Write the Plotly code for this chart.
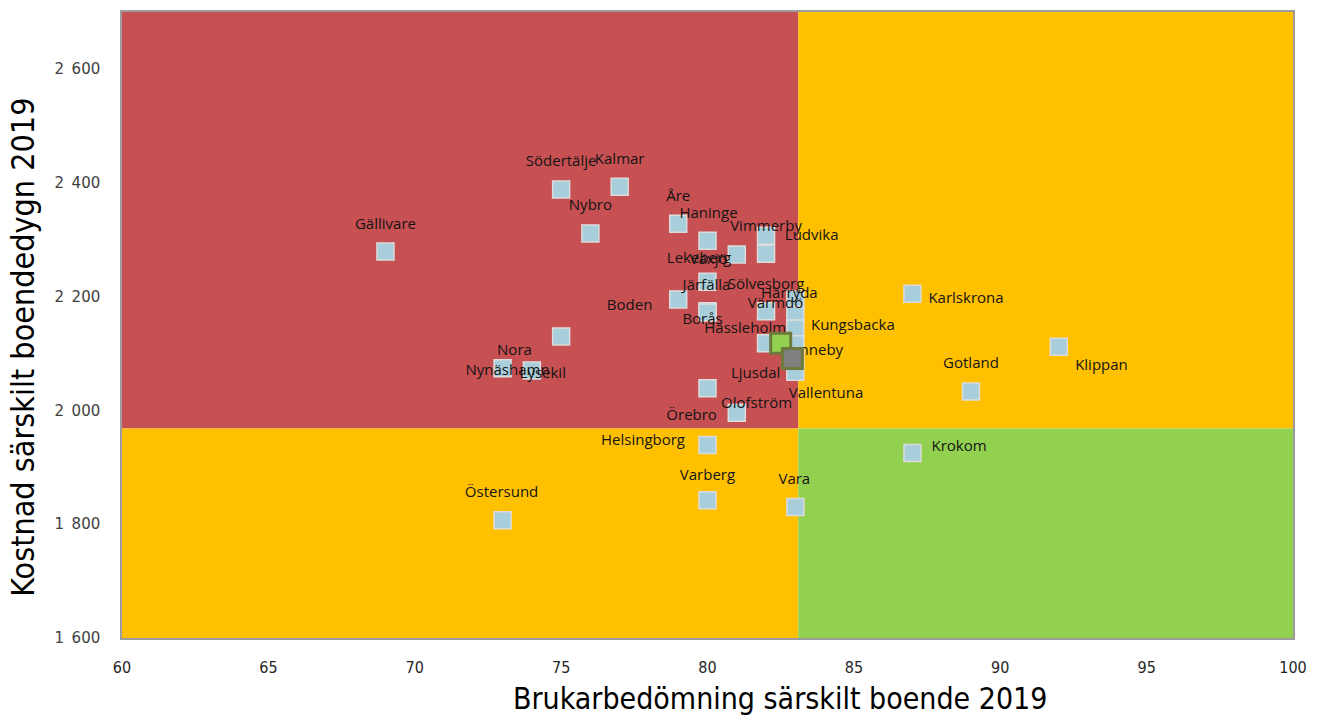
import plotly.graph_objects as go

# ---------------- data ----------------
municipalities = ["Gällivare", "Södertälje", "Kalmar", "Nybro", "Åre", "Haninge", "Ludvika",
                  "Vimmerby", "Lekeberg", "Växjö", "Boden", "Järfälla", "Borås", "Sölvesborg",
                  "Härryda", "Värmdö", "Kungsbacka", "Hässleholm", "Ronneby", "Vallentuna",
                  "Ljusdal", "Örebro", "Olofström", "Helsingborg", "Varberg", "Vara",
                  "Östersund", "Nora", "Nynäshamn", "Lysekil", "Karlskrona", "Klippan",
                  "Gotland", "Krokom"]
user_rating = [69, 75, 77, 76, 79, 80, 82,
               82, 81, 80, 79, 80, 80, 82,
               83, 83, 83, 82, 83, 83,
               83, 80, 81, 80, 80, 83,
               73, 75, 73, 74, 87, 92,
               89, 87]
cost_per_day = [2279, 2388, 2393, 2311, 2328, 2298, 2307,
                2275, 2274, 2226, 2195, 2174, 2172, 2174,
                2195, 2168, 2144, 2118, 2116, 2091,
                2068, 2039, 1996, 1939, 1842, 1830,
                1807, 2130, 2074, 2070, 2205, 2112,
                2033, 1925]

highlight_names = ["Kommunen", "Riket"]
highlight_rating = [82.5, 82.9]
highlight_cost = [2118, 2091]

avg_rating = 83.1
avg_cost = 1968

x_ticks = [60, 65, 70, 75, 80, 85, 90, 95, 100]
y_ticks = [1600, 1800, 2000, 2200, 2400, 2600]
y_tick_text = ["1\u2002600", "1\u2002800", "2\u2002000", "2\u2002200", "2\u2002400", "2\u2002600"]

# label offsets in screen pixels (dx right, dy down) - styling only
label_offsets = [(0, -26), (0, -27), (0, -27), (0, -27), (0, -27), (1, -27), (46, 1),
                 (0, -27), (-38, 5), (1, -22), (-49, 7), (-1, -25), (-5, 8), (0, -26),
                 (-6, -5), (-20, -11), (58, -2), (-21, -14), (17, 7), (31, 36),
                 (-40, 3), (-16, 28), (20, -8), (-65, -4), (0, -24), (-1, -27),
                 (-1, -27), (-47, 15), (5, 3), (11, 4), (54, 6), (43, 20),
                 (0, -27), (47, -6)]

# ---------------- layout geometry ----------------
W, H = 1317, 717
ML, MR, MT, MB = 122, 15, 10, 79
XR = (60, 100)
YR = (1600, 2700)
plot_w = W - ML - MR
px_per_x = plot_w / (XR[1] - XR[0])
px_per_y = (H - MT - MB) / (YR[1] - YR[0])

RED = "#C75052"
YELLOW = "#FFC000"
GREEN = "#92D050"

fig = go.Figure()

# quadrant backgrounds
quads = [
    (XR[0], avg_rating, avg_cost, YR[1], RED),
    (avg_rating, XR[1], avg_cost, YR[1], YELLOW),
    (XR[0], avg_rating, YR[0], avg_cost, YELLOW),
    (avg_rating, XR[1], YR[0], avg_cost, GREEN),
]
for x0, x1, y0, y1, c in quads:
    fig.add_shape(type="rect", xref="x", yref="y", x0=x0, x1=x1, y0=y0, y1=y1,
                  fillcolor=c, line=dict(width=0), layer="below")

# municipalities
fig.add_trace(go.Scatter(
    x=user_rating, y=cost_per_day, mode="markers", name="Kommuner",
    marker=dict(symbol="square", size=17, color="#A8CEDB",
                line=dict(color="#DCDCDC", width=1.5)),
    hoverinfo="text", text=municipalities, showlegend=False,
))

# labels
lx = [x + dx / px_per_x for x, (dx, dy) in zip(user_rating, label_offsets)]
ly = [y - dy / px_per_y for y, (dx, dy) in zip(cost_per_day, label_offsets)]
fig.add_trace(go.Scatter(
    x=lx, y=ly, mode="text", text=municipalities, textposition="middle center",
    textfont=dict(family="Open Sans", size=15, color="#141414"),
    hoverinfo="skip", showlegend=False, cliponaxis=False,
))

# highlighted markers
fig.add_trace(go.Scatter(
    x=highlight_rating, y=highlight_cost, mode="markers", text=highlight_names,
    marker=dict(symbol="square", size=20, color=[GREEN, "#7F7F7F"],
                line=dict(color="#6E7A3C", width=3)),
    hoverinfo="text", showlegend=False,
))

fig.update_layout(
    width=W, height=H,
    margin=dict(l=ML, r=MR, t=MT, b=MB),
    paper_bgcolor="white", plot_bgcolor="white",
    showlegend=False,
    xaxis=dict(range=list(XR), tickvals=x_ticks, showgrid=False, zeroline=False,
               showline=True, mirror=True, linecolor="#9C9C9C", linewidth=1.5,
               ticks="", ticklabelstandoff=14, ticklabeloverflow="allow",
               tickfont=dict(family="DejaVu Sans Condensed", size=16, color="#262626")),
    yaxis=dict(range=list(YR), tickvals=y_ticks, ticktext=y_tick_text, showgrid=False,
               zeroline=False, showline=True, mirror=True, linecolor="#9C9C9C",
               linewidth=1.5, ticks="", ticklabelstandoff=17,
               tickfont=dict(family="DejaVu Sans", size=15, color="#404040")),
    annotations=[
        dict(text="Brukarbedömning särskilt boende 2019", xref="paper", yref="paper",
             x=(785 - ML) / plot_w, y=(H - MB - 699) / (H - MT - MB),
             xanchor="center", yanchor="middle", showarrow=False,
             font=dict(family="DejaVu Sans Condensed", size=30, color="#000000")),
        dict(text="Kostnad särskilt boendedygn 2019", xref="paper", yref="paper",
             x=(22 - ML) / plot_w, y=(H - MB - 346) / (H - MT - MB),
             xanchor="center", yanchor="middle", showarrow=False, textangle=-90,
             font=dict(family="DejaVu Sans Condensed", size=32, color="#000000")),
    ],
)

fig.write_html("out.html", config={"displayModeBar": False},
               post_script="document.body.style.margin='0';")
